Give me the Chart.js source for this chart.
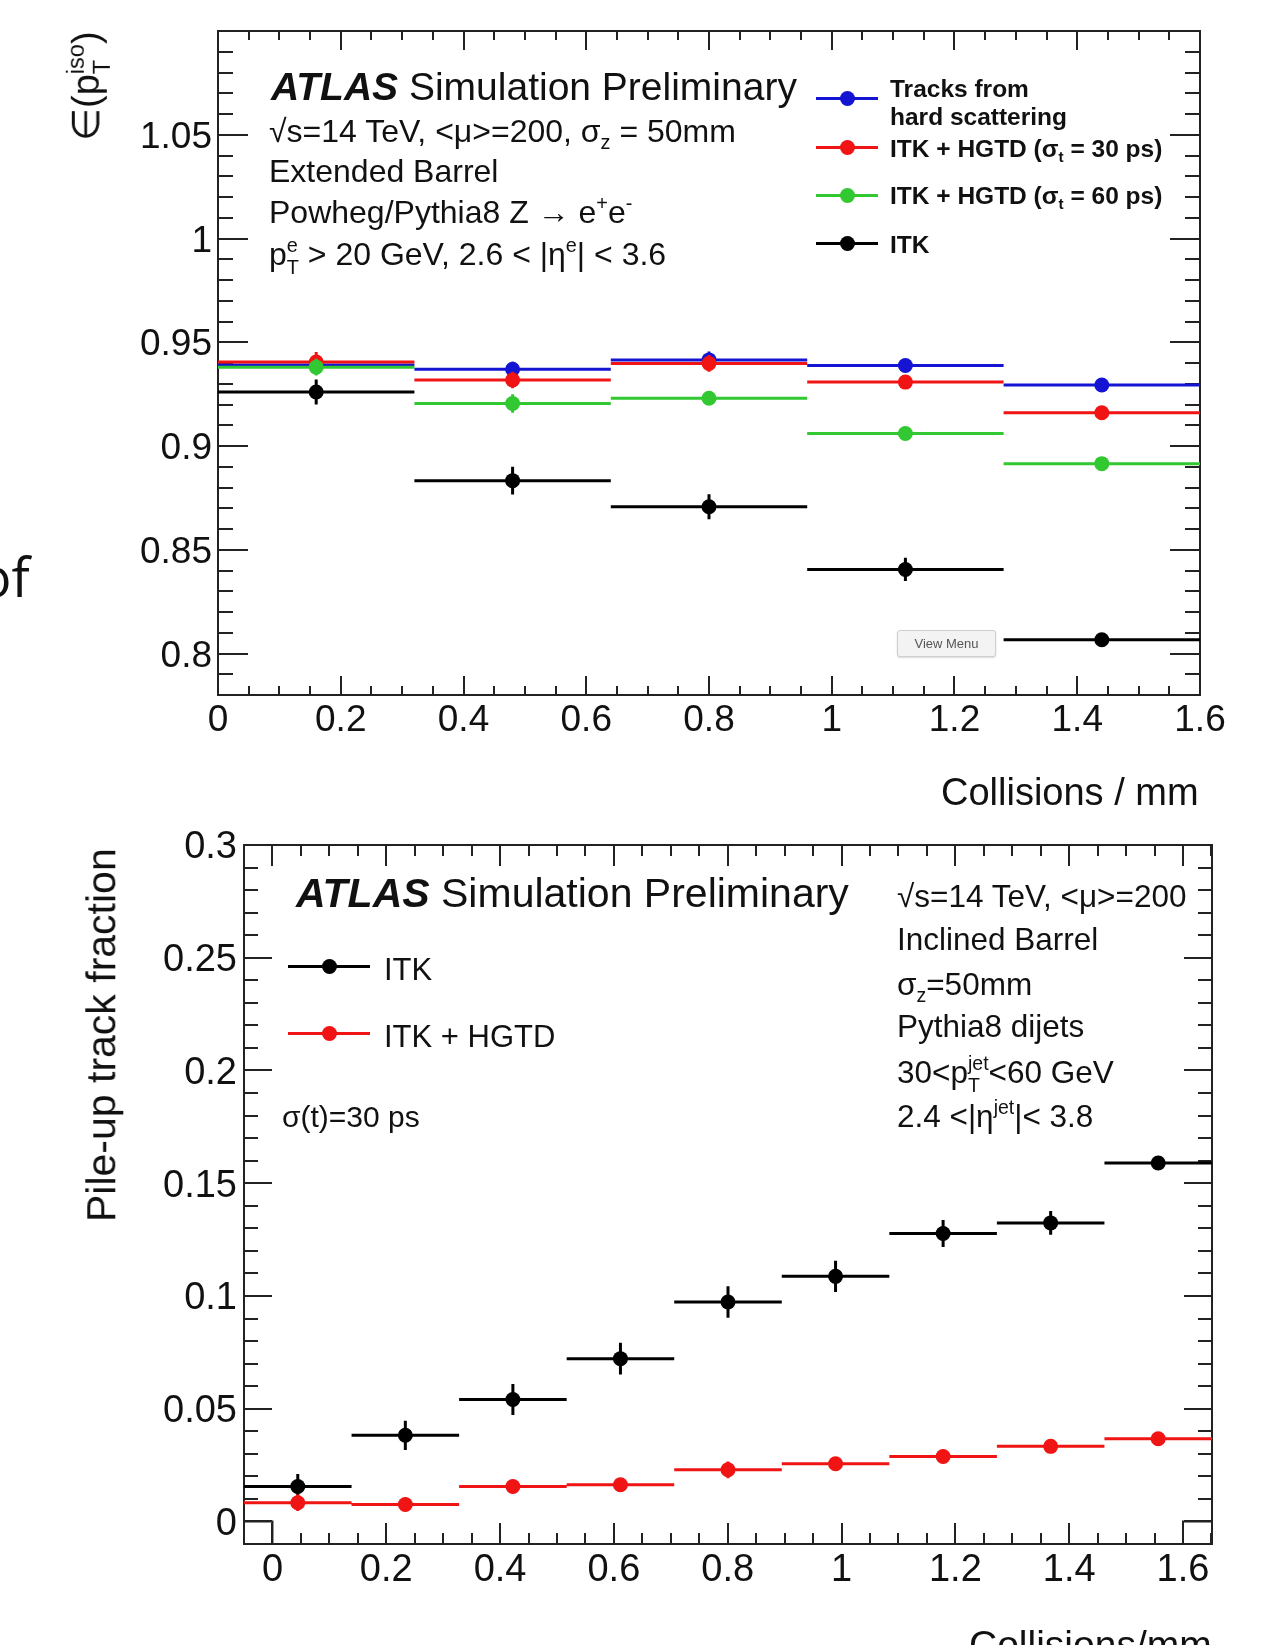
<!DOCTYPE html>
<html><head><meta charset="utf-8">
<script src="https://cdn.jsdelivr.net/npm/chart.js@4.4.1/dist/chart.umd.min.js"></script>
<style>
html,body{margin:0;padding:0;background:#fff;}
body{width:1261px;height:1645px;overflow:hidden;position:relative;font-family:"Liberation Sans",Arial,Helvetica,sans-serif;color:#111;}
canvas{position:absolute;left:0;}
.t{position:absolute;white-space:nowrap;line-height:1;}
.bl{display:inline-block;width:0;height:0;vertical-align:baseline;}
.sb{font-size:.62em;vertical-align:-0.35em;line-height:1;}
.sp{font-size:.62em;vertical-align:0.65em;line-height:1;}
.stk{display:inline-block;font-size:.62em;line-height:1.1;vertical-align:-0.45em;text-align:left;}
.stk>span{display:block;}
.sym{position:absolute;}
#vm{position:absolute;left:897px;top:630px;width:97px;height:25px;border:1px solid #cfcfcf;border-radius:3px;background:#f3f3f3;box-shadow:0 1px 2px rgba(0,0,0,.15);font:13px "Liberation Sans",Arial,sans-serif;color:#555;text-align:center;line-height:25px;}
</style>
</head>
<body>
<canvas id="top" width="1261" height="800" style="top:0;width:1261px;height:800px"></canvas>
<canvas id="bot" width="1261" height="845" style="top:800px;width:1261px;height:845px"></canvas>
<div id="vm">View Menu</div>
<script>
// ---------------- DATA ----------------
// Upper plot: efficiency vs collisions / mm
const topBinEdges = [0, 0.32, 0.64, 0.96, 1.28, 1.6];
const topHardScatter    = [0.939, 0.937, 0.9415, 0.9388, 0.9294];
const topHardScatterErr = [0.003, 0.0036, 0.004, 0.003, 0.003];
const topHgtd30    = [0.9405, 0.9318, 0.9398, 0.9308, 0.916];
const topHgtd30Err = [0.0048, 0.004, 0.004, 0.003, 0.003];
const topHgtd60    = [0.938, 0.9205, 0.923, 0.906, 0.8915];
const topHgtd60Err = [0.004, 0.0045, 0.003, 0.003, 0.003];
const topItk    = [0.926, 0.8833, 0.8707, 0.8405, 0.8066];
const topItkErr = [0.006, 0.0067, 0.006, 0.0056, 0.003];
const topXTicks = [0, 0.2, 0.4, 0.6, 0.8, 1, 1.2, 1.4, 1.6];
const topYTicks = [0.8, 0.85, 0.9, 0.95, 1, 1.05];
const topXRange = [0, 1.6];
const topYRange = [0.78, 1.1];

// Lower plot: pile-up track fraction vs collisions / mm
const botBinEdges = [-0.05, 0.139, 0.328, 0.517, 0.706, 0.895, 1.084, 1.273, 1.462, 1.651];
const botItk    = [0.0155, 0.0382, 0.0541, 0.0722, 0.0973, 0.1087, 0.1277, 0.1324, 0.159];
const botItkErr = [0.0055, 0.0065, 0.0069, 0.007, 0.007, 0.0069, 0.006, 0.0053, 0.003];
const botHgtd    = [0.0083, 0.0075, 0.0155, 0.0163, 0.0229, 0.0256, 0.0288, 0.0333, 0.0367];
const botHgtdErr = [0.0037, 0.003, 0.003, 0.003, 0.0037, 0.003, 0.003, 0.003, 0.003];
// outline histogram visible only in the corners (its middle bin lies below the axis)
const botOutlineEdges = [-0.05, 0, 1.6, 1.651];
const botOutlineVals  = [0, -1, 0];
const botXTicks = [0, 0.2, 0.4, 0.6, 0.8, 1, 1.2, 1.4, 1.6];
const botYTicks = [0, 0.05, 0.1, 0.15, 0.2, 0.25, 0.3];
const botXRange = [-0.05, 1.651];
const botYRange = [-0.01, 0.3];

// ---------------- STYLE ----------------
const FONT = "'Liberation Sans', Arial, Helvetica, sans-serif";
const FRAME = '#222';
const C_BLUE = '#1414d2', C_RED = '#f01414', C_GREEN = '#32c832', C_BLACK = '#000';

function range(min, max, step) {
  const out = [];
  const i0 = Math.ceil(min / step - 1e-9), i1 = Math.floor(max / step + 1e-9);
  for (let i = i0; i <= i1; i++) out.push(+(i * step).toFixed(6));
  return out;
}
function fmt(v) { return String(+(+v).toFixed(4)); }

// zero-size axis that only draws (inward) tick marks and optionally the frame line
function tickAxis(pos, r, ticksArr, len, border) {
  const horiz = (pos === 'top' || pos === 'bottom');
  return {
    type: 'linear', position: pos, min: r[0], max: r[1], weight: 0,
    afterBuildTicks: s => { s.ticks = ticksArr.map(v => ({ value: v })); },
    afterFit: s => { if (horiz) s.height = 0; else s.width = 0; },
    grid: { display: true, drawOnChartArea: false, drawTicks: true, tickLength: -len,
            tickWidth: 2, tickColor: FRAME, color: FRAME, lineWidth: 2 },
    border: { display: border, color: FRAME, width: 2 },
    ticks: { display: false }
  };
}
// axis that carries the data mapping and the tick labels
function labelAxis(pos, r, ticksArr, size, pad, fontSize, labelOffset) {
  const horiz = (pos === 'top' || pos === 'bottom');
  return {
    type: 'linear', position: pos, min: r[0], max: r[1], weight: 1,
    afterBuildTicks: s => { s.ticks = ticksArr.map(v => ({ value: v })); },
    afterFit: s => { if (horiz) s.height = size; else s.width = size; },
    grid: { display: false, drawOnChartArea: false, drawTicks: false },
    border: { display: false },
    ticks: { display: true, padding: pad, color: '#111', font: { family: FONT, size: fontSize },
             labelOffset: labelOffset || 0,
             autoSkip: false, maxRotation: 0, minRotation: 0, callback: v => fmt(v) }
  };
}

function buildScales(c) {
  const xMinor = range(c.xr[0], c.xr[1], c.xMinorStep);
  const yMinor = range(c.yr[0], c.yr[1], c.yMinorStep);
  return {
    x:   labelAxis('bottom', c.xr, c.xTicks, c.xSize, c.xPad, c.fontSize, 0),
    xb:  tickAxis('bottom', c.xr, c.xTicks, c.xLen[0], true),
    xbm: tickAxis('bottom', c.xr, xMinor, c.xLen[1], false),
    xt:  tickAxis('top', c.xr, c.xTicks, c.xLen[0], true),
    xtm: tickAxis('top', c.xr, xMinor, c.xLen[1], false),
    y:   labelAxis('left', c.yr, c.yTicks, c.ySize, c.yPad, c.fontSize, 3),
    yl:  tickAxis('left', c.yr, c.yTicks, c.yLen[0], true),
    ylm: tickAxis('left', c.yr, yMinor, c.yLen[1], false),
    yr:  tickAxis('right', c.yr, c.yTicks, c.yLen[0], true),
    yrm: tickAxis('right', c.yr, yMinor, c.yLen[1], false)
  };
}

function seriesDatasets(edges, vals, errs, color, orderBase) {
  const seg = [], err = [], pts = [];
  vals.forEach((v, i) => {
    const lo = edges[i], hi = edges[i + 1], c = (lo + hi) / 2;
    seg.push({ x: lo, y: v }, { x: hi, y: v }, { x: hi, y: null });
    err.push({ x: c, y: v - errs[i] }, { x: c, y: v + errs[i] }, { x: c, y: null });
    pts.push({ x: c, y: v });
  });
  const lineBase = { type: 'line', borderColor: color, borderWidth: 3, pointRadius: 0,
                     spanGaps: false, fill: false, tension: 0, xAxisID: 'x', yAxisID: 'y' };
  return [
    Object.assign({ data: seg, order: orderBase + 2 }, lineBase),
    Object.assign({ data: err, order: orderBase + 1 }, lineBase),
    { type: 'scatter', data: pts, order: orderBase, pointRadius: 7.5, pointHoverRadius: 7.5,
      pointBackgroundColor: color, pointBorderWidth: 0, showLine: false, xAxisID: 'x', yAxisID: 'y' }
  ];
}
function outlineDataset(edges, vals) {
  const pts = vals.map((v, i) => ({ x: edges[i], y: v }));
  pts.push({ x: edges[edges.length - 1], y: vals[vals.length - 1] });
  return { type: 'line', data: pts, stepped: 'before', borderColor: FRAME, borderWidth: 2,
           pointRadius: 0, fill: false, order: 50, xAxisID: 'x', yAxisID: 'y' };
}

Chart.defaults.font.family = FONT;

new Chart(document.getElementById('top'), {
  type: 'scatter',
  data: { datasets: [].concat(
    seriesDatasets(topBinEdges, topHardScatter, topHardScatterErr, C_BLUE, 40),
    seriesDatasets(topBinEdges, topHgtd30, topHgtd30Err, C_RED, 30),
    seriesDatasets(topBinEdges, topHgtd60, topHgtd60Err, C_GREEN, 20),
    seriesDatasets(topBinEdges, topItk, topItkErr, C_BLACK, 10)) },
  options: {
    responsive: false, animation: false, events: [],
    layout: { padding: { left: 0, top: 31, right: 61, bottom: 0 } },
    plugins: { legend: { display: false }, tooltip: { enabled: false } },
    scales: buildScales({ xr: topXRange, yr: topYRange, xTicks: topXTicks, yTicks: topYTicks,
      xMinorStep: 0.05, yMinorStep: 0.01, xLen: [19, 9], yLen: [30, 15],
      fontSize: 37, xSize: 105, ySize: 218, xPad: 4, yPad: 6 })
  }
});

new Chart(document.getElementById('bot'), {
  type: 'scatter',
  data: { datasets: [].concat(
    [outlineDataset(botOutlineEdges, botOutlineVals)],
    seriesDatasets(botBinEdges, botItk, botItkErr, C_BLACK, 20),
    seriesDatasets(botBinEdges, botHgtd, botHgtdErr, C_RED, 10)) },
  options: {
    responsive: false, animation: false, events: [],
    layout: { padding: { left: 0, top: 45, right: 49, bottom: 0 } },
    plugins: { legend: { display: false }, tooltip: { enabled: false } },
    scales: buildScales({ xr: botXRange, yr: botYRange, xTicks: botXTicks, yTicks: botYTicks,
      xMinorStep: 0.05, yMinorStep: 0.01, xLen: [21, 11], yLen: [28, 14],
      fontSize: 38, xSize: 101, ySize: 244, xPad: 4, yPad: 7 })
  }
});

// ---------------- TEXT OVERLAYS ----------------
function stk(up, dn) { return '<span class="stk"><span>' + up + '</span><span>' + dn + '</span></span>'; }
function addText(html, x, baseline, size, opts) {
  opts = opts || {};
  const d = document.createElement('div');
  d.className = 't';
  d.style.fontSize = size + 'px';
  if (opts.family) d.style.fontFamily = opts.family;
  if (opts.weight) d.style.fontWeight = opts.weight;
  d.innerHTML = '<span class="bl"></span>' + html;
  d.style.left = x + 'px';
  d.style.top = (baseline - 0.8465 * size) + 'px';
  document.body.appendChild(d);
  const m = d.querySelector('.bl').getBoundingClientRect().bottom;
  d.style.top = (parseFloat(d.style.top) + (baseline - m)) + 'px';
  if (opts.align === 'right') d.style.left = (x - d.offsetWidth) + 'px';
  return d;
}
function addRot(html, bx, by, size) {
  const d = document.createElement('div');
  d.className = 't';
  d.style.fontSize = size + 'px';
  d.style.left = bx + 'px';
  d.style.top = by + 'px';
  d.style.transformOrigin = '0 0';
  d.style.transform = 'rotate(-90deg) translate(0px,' + (-0.8465 * size) + 'px)';
  d.innerHTML = html;
  document.body.appendChild(d);
}
function addSym(x1, x2, y, color, r) {
  const l = document.createElement('div');
  l.className = 'sym';
  Object.assign(l.style, { left: x1 + 'px', top: (y - 1.5) + 'px', width: (x2 - x1) + 'px', height: '3px', background: color });
  document.body.appendChild(l);
  const c = document.createElement('div');
  c.className = 'sym';
  const cx = (x1 + x2) / 2;
  Object.assign(c.style, { left: (cx - r) + 'px', top: (y - r) + 'px', width: 2 * r + 'px', height: 2 * r + 'px', borderRadius: '50%', background: color });
  document.body.appendChild(c);
}

// stray slide text at the left edge
addText('of', -21, 597, 54, { family: "'Open Sans', 'Noto Sans', sans-serif" });

// upper plot
addText('<b><i>ATLAS</i></b> Simulation Preliminary', 271, 100, 39);
addText('√s=14 TeV, &lt;μ&gt;=200, σ<span class="sb">z</span> = 50mm', 269, 142, 32);
addText('Extended Barrel', 269, 182, 32);
addText('Powheg/Pythia8 Z → e<span class="sp">+</span>e<span class="sp">-</span>', 269, 223, 32);
addText('p' + stk('e', 'T') + ' &gt; 20 GeV, 2.6 &lt; |η<span class="sp">e</span>| &lt; 3.6', 269, 265, 32);

addSym(816, 878, 98, C_BLUE, 7.5);
addSym(816, 878, 147, C_RED, 7.5);
addSym(816, 878, 195, C_GREEN, 7.5);
addSym(816, 878, 243, C_BLACK, 7.5);
addText('Tracks from', 890, 97, 24.5, { weight: 'bold' });
addText('hard scattering', 890, 125, 24.5, { weight: 'bold' });
addText('ITK + HGTD (σ<span class="sb">t</span> = 30 ps)', 890, 157, 24.5, { weight: 'bold' });
addText('ITK + HGTD (σ<span class="sb">t</span> = 60 ps)', 890, 204, 24.5, { weight: 'bold' });
addText('ITK', 890, 253, 24.5, { weight: 'bold' });

addText('Collisions / mm', 1199, 805, 38, { align: 'right' });
addRot('∈(p' + stk('iso', 'T') + ')', 96, 141, 38);

// lower plot
addText('<b><i>ATLAS</i></b> Simulation Preliminary', 296, 907, 41);
addText('√s=14 TeV, &lt;μ&gt;=200', 897, 907, 31.5);
addText('Inclined Barrel', 897, 950, 31.5);
addText('σ<span class="sb">z</span>=50mm', 897, 995, 31.5);
addText('Pythia8 dijets', 897, 1037, 31.5);
addText('30&lt;p' + stk('jet', 'T') + '&lt;60 GeV', 897, 1083, 31.5);
addText('2.4 &lt;|η<span class="sp">jet</span>|&lt; 3.8', 897, 1127, 31.5);
addText('σ(t)=30 ps', 282, 1127, 30);
addSym(288, 370, 966, C_BLACK, 7.5);
addSym(288, 370, 1033, C_RED, 7.5);
addText('ITK', 384, 980, 31);
addText('ITK + HGTD', 384, 1047, 31);
addText('Collisions/mm', 1212, 1658, 39, { align: 'right' });
addRot('Pile-up track fraction', 116, 1222, 41);
</script>
</body></html>
